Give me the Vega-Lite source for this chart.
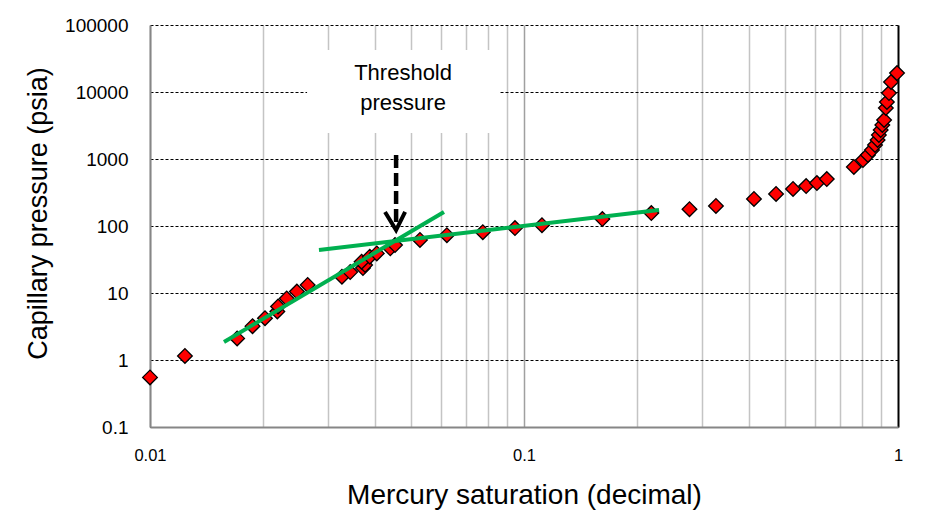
{
  "$schema": "https://vega.github.io/schema/vega-lite/v6.json",
  "autosize": {"type": "none"},
  "width": 748,
  "height": 402,
  "padding": {"left": 150, "top": 25, "right": 37, "bottom": 100},
  "background": "white",
  "config": {
    "view": {"stroke": null},
    "font": "Liberation Sans",
    "axis": {"labelColor": "#000000", "titleColor": "#000000", "titleFontWeight": "normal", "ticks": false, "tickSize": 0}
  },
  "datasets": {
    "pts": [
      {"sat": 0.0100, "pc": 0.55},
      {"sat": 0.0124, "pc": 1.15},
      {"sat": 0.0171, "pc": 2.1},
      {"sat": 0.0188, "pc": 3.2},
      {"sat": 0.0203, "pc": 4.2},
      {"sat": 0.0219, "pc": 5.3},
      {"sat": 0.0220, "pc": 6.3},
      {"sat": 0.0232, "pc": 8.3},
      {"sat": 0.0247, "pc": 10.5},
      {"sat": 0.0264, "pc": 13.2},
      {"sat": 0.0326, "pc": 17.5},
      {"sat": 0.0343, "pc": 20.5},
      {"sat": 0.0371, "pc": 23.6},
      {"sat": 0.0376, "pc": 26.2},
      {"sat": 0.0368, "pc": 29.3},
      {"sat": 0.0387, "pc": 34.8},
      {"sat": 0.0404, "pc": 39},
      {"sat": 0.0439, "pc": 46.5},
      {"sat": 0.0452, "pc": 52},
      {"sat": 0.0527, "pc": 62},
      {"sat": 0.0622, "pc": 73},
      {"sat": 0.0776, "pc": 81},
      {"sat": 0.0946, "pc": 93},
      {"sat": 0.1117, "pc": 103},
      {"sat": 0.162, "pc": 127},
      {"sat": 0.219, "pc": 156},
      {"sat": 0.277, "pc": 178},
      {"sat": 0.326, "pc": 199},
      {"sat": 0.412, "pc": 253},
      {"sat": 0.472, "pc": 301},
      {"sat": 0.524, "pc": 357},
      {"sat": 0.568, "pc": 395},
      {"sat": 0.607, "pc": 438},
      {"sat": 0.645, "pc": 502},
      {"sat": 0.762, "pc": 760},
      {"sat": 0.806, "pc": 966},
      {"sat": 0.831, "pc": 1148},
      {"sat": 0.852, "pc": 1361},
      {"sat": 0.868, "pc": 1618},
      {"sat": 0.882, "pc": 1923},
      {"sat": 0.889, "pc": 2283},
      {"sat": 0.899, "pc": 2713},
      {"sat": 0.908, "pc": 3218},
      {"sat": 0.918, "pc": 3820},
      {"sat": 0.928, "pc": 5770},
      {"sat": 0.934, "pc": 7100},
      {"sat": 0.946, "pc": 9660},
      {"sat": 0.958, "pc": 14100},
      {"sat": 0.994, "pc": 19200}
    ],
    "fits": [
      {"fit": "steep", "sat": 0.01577, "pc": 1.86},
      {"fit": "steep", "sat": 0.0611, "pc": 162},
      {"fit": "flat", "sat": 0.0283, "pc": 43.8},
      {"fit": "flat", "sat": 0.2297, "pc": 173}
    ],
    "box": [
      {"sat": 0.0263, "sat2": 0.0863, "pc": 42360, "pc2": 2443}
    ],
    "label": [
      {"sat": 0.0475, "pc": 19230, "text": "Threshold\npressure"}
    ],
    "shaft": [
      {"sat": 0.0455, "pc": 1148},
      {"sat": 0.0455, "pc": 100}
    ],
    "head": [
      {"order": 1, "sat": 0.0425, "pc": 162},
      {"order": 2, "sat": 0.0455, "pc": 87},
      {"order": 3, "sat": 0.0481, "pc": 162}
    ]
  },
  "layer": [
    {
      "data": {"name": "box"},
      "mark": {"type": "rect", "fill": "white", "stroke": null},
      "encoding": {
        "x": {
          "field": "sat", "type": "quantitative",
          "scale": {"type": "log", "domain": [0.01, 1], "nice": false},
          "axis": {
            "title": "Mercury saturation (decimal)",
            "titleFontSize": 28,
            "titlePadding": 18,
            "labelFontSize": 16.5,
            "labelPadding": 20,
            "values": [0.01, 0.02, 0.03, 0.04, 0.05, 0.06, 0.07, 0.08, 0.09, 0.1, 0.2, 0.3, 0.4, 0.5, 0.6, 0.7, 0.8, 0.9, 1],
            "labelExpr": "(datum.value == 0.01 || datum.value == 0.1 || datum.value == 1) ? format(datum.value, '~f') : ''",
            "labelFlush": false,
            "labelOverlap": false,
            "domainColor": "#868686",
            "domainWidth": 2,
            "grid": true,
            "gridColor": {"condition": [{"test": "datum.value == 1", "value": "#000000"}, {"test": "datum.value == 0.1", "value": "#a0a0a0"}], "value": "#c4c4c4"},
            "gridWidth": {"condition": {"test": "datum.value == 1", "value": 2}, "value": 1.5}
          }
        },
        "x2": {"field": "sat2"},
        "y": {
          "field": "pc", "type": "quantitative",
          "scale": {"type": "log", "domain": [0.1, 100000], "nice": false},
          "axis": {
            "title": "Capillary pressure (psia)",
            "titleFontSize": 27,
            "titlePadding": 12,
            "titleY": 188,
            "labelFontSize": 19,
            "labelPadding": 22,
            "values": [0.1, 1, 10, 100, 1000, 10000, 100000],
            "format": "~f",
            "labelFlush": false,
            "domainColor": "#868686",
            "domainWidth": 2,
            "grid": true,
            "gridColor": "#000000",
            "gridDash": [3, 2],
            "gridWidth": 1
          }
        },
        "y2": {"field": "pc2"}
      }
    },
    {
      "data": {"name": "label"},
      "mark": {"type": "text", "fontSize": 22, "lineHeight": 30, "lineBreak": "\n", "align": "center", "baseline": "middle", "color": "#000000"},
      "encoding": {
        "x": {"field": "sat", "type": "quantitative"},
        "y": {"field": "pc", "type": "quantitative"},
        "text": {"field": "text"}
      }
    },
    {
      "data": {"name": "pts"},
      "mark": {"type": "point", "shape": "diamond", "filled": true, "fill": "#ff0000", "stroke": "#000000", "strokeWidth": 1.3, "size": 215, "opacity": 1},
      "encoding": {
        "x": {"field": "sat", "type": "quantitative"},
        "y": {"field": "pc", "type": "quantitative"}
      }
    },
    {
      "data": {"name": "fits"},
      "mark": {"type": "line", "color": "#00b050", "strokeWidth": 4},
      "encoding": {
        "x": {"field": "sat", "type": "quantitative"},
        "y": {"field": "pc", "type": "quantitative"},
        "detail": {"field": "fit"}
      }
    },
    {
      "data": {"name": "shaft"},
      "mark": {"type": "line", "color": "#000000", "strokeWidth": 4.5, "strokeDash": [13, 5]},
      "encoding": {
        "x": {"field": "sat", "type": "quantitative"},
        "y": {"field": "pc", "type": "quantitative"}
      }
    },
    {
      "data": {"name": "head"},
      "mark": {"type": "line", "color": "#000000", "strokeWidth": 4, "strokeJoin": "miter"},
      "encoding": {
        "x": {"field": "sat", "type": "quantitative"},
        "y": {"field": "pc", "type": "quantitative"},
        "order": {"field": "order"}
      }
    }
  ]
}
